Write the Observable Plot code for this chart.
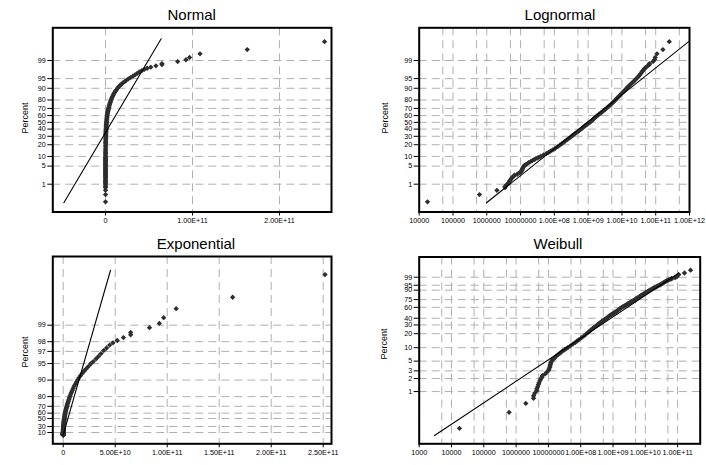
<!DOCTYPE html>
<html><head><meta charset="utf-8">
<script src="https://cdn.jsdelivr.net/npm/d3@7"></script>
<script src="https://cdn.jsdelivr.net/npm/@observablehq/plot@0.6"></script>
<style>
body{margin:0;background:#fff;}
#root{position:relative;width:706px;height:465px;overflow:hidden;font-family:Arial,"Liberation Sans",sans-serif;color:#000;}
.panel{position:absolute;}
.title{position:absolute;font-size:15px;transform:translateX(-50%);white-space:nowrap;line-height:15px;}
.ylab{position:absolute;font-size:9px;transform:translate(-50%,-50%) rotate(-90deg);white-space:nowrap;line-height:9px;}
</style></head><body><div id="root"></div>
<script>
// ---- sample: log10 of value, and plotting-position percent ----
const valueLog10 = [
 4.246, 5.784, 6.30, 6.54, 6.54, 6.58, 6.64, 6.64, 6.67, 6.69, 6.71, 6.74, 6.76, 6.80, 6.82, 6.90, 6.95, 7.00,
 7.02, 7.04, 7.05, 7.06, 7.08, 7.10, 7.12, 7.16, 7.20, 7.24, 7.30, 7.35, 7.40, 7.44, 7.50, 7.55, 7.60, 7.68,
 7.76, 7.83, 7.89, 7.95, 8.03, 8.10, 8.16, 8.22, 8.27, 8.32, 8.37, 8.42, 8.48, 8.52, 8.57, 8.61, 8.65, 8.70,
 8.74, 8.78, 8.82, 8.86, 8.90, 8.94, 8.98, 9.02, 9.06, 9.10, 9.14, 9.18, 9.22, 9.26, 9.30, 9.34, 9.38, 9.42,
 9.46, 9.50, 9.54, 9.58, 9.62, 9.66, 9.70, 9.74, 9.78, 9.82, 9.86, 9.90, 9.94, 9.98, 10.02, 10.06, 10.10, 10.14,
 10.18, 10.22, 10.26, 10.30, 10.34, 10.38, 10.42, 10.46, 10.50, 10.53, 10.56, 10.59, 10.62, 10.65, 10.68,
 10.716, 10.763, 10.812, 10.812, 10.919, 10.966, 10.985, 11.036, 11.212, 11.401
];
const percent = [
 0.14, 0.33, 0.53, 0.70, 0.80, 0.92, 1.05, 1.16, 1.30, 1.45, 1.60, 1.80, 1.96, 2.15, 2.35, 2.55, 2.80, 3.05,
 3.30, 3.6, 3.9, 4.2, 4.6, 5.0, 5.3, 5.6, 6.0, 6.5, 7.0, 7.5, 8.0, 8.5, 9.0, 9.5, 10.0, 11.0,
 12.0, 13.0, 14.0, 15.0, 16.5, 18.0, 19.5, 21.0, 22.5, 24.0, 25.5, 27.0, 28.8, 30.5, 32.0, 33.5, 35.0, 36.5,
 38.0, 39.5, 41.0, 42.9, 44.5, 46.0, 47.5, 49.0, 50.5, 52.0, 54.0, 56.0, 57.7, 59.5, 61.0, 62.5, 64.0, 65.5,
 67.0, 68.5, 70.0, 71.6, 73.0, 74.5, 76.0, 77.5, 79.0, 80.5, 82.0, 83.3, 84.5, 85.8, 87.0, 88.0, 89.0, 90.0,
 90.9, 91.7, 92.4, 93.1, 93.7, 94.3, 94.9, 95.4, 95.9, 96.3, 96.7, 97.1, 97.4, 97.7, 97.9,
 98.10, 98.32, 98.50, 98.64, 98.89, 99.07, 99.27, 99.50, 99.69, 99.88
];

// ---- fitted lines (end points) ----
const normalFitValue = [-4.79e10, 6.4e10];
const normalFitPercent = [0.124, 99.916];
const lognormalFitValue = [9.8e5, 1.07e12];
const lognormalFitPercent = [0.124, 99.9];
const exponentialFitValue = [8e6, 4.55e10];
const exponentialFitPercent = [0.12, 99.9];
const weibullFitValue = [2980, 1.07e11];
const weibullFitPercent = [0.095, 99.67];

// ---- tick labels ----
const titles = ["Normal", "Lognormal", "Exponential", "Weibull"];
const yLabel = "Percent";
const normalYTicks = [1, 5, 10, 20, 30, 40, 50, 60, 70, 80, 90, 95, 99];
const exponentialYTicks = [10, 30, 50, 60, 70, 80, 90, 95, 97, 98, 99];
const weibullYTicks = [1, 2, 3, 5, 10, 20, 30, 40, 60, 75, 90, 95, 99];
const normalXTicks = [0, 1e11, 2e11];
const normalXLabels = ["0", "1.00E+11", "2.00E+11"];
const lognormalXTicks = [1e4, 1e5, 1e6, 1e7, 1e8, 1e9, 1e10, 1e11, 1e12];
const lognormalXLabels = ["10000", "100000", "1000000", "10000000", "1.00E+08", "1.00E+09", "1.00E+10", "1.00E+11", "1.00E+12"];
const exponentialXTicks = [0, 5e10, 1e11, 1.5e11, 2e11, 2.5e11];
const exponentialXLabels = ["0", "5.00E+10", "1.00E+11", "1.50E+11", "2.00E+11", "2.50E+11"];
const weibullXTicks = [1e3, 1e4, 1e5, 1e6, 1e7, 1e8, 1e9, 1e10, 1e11];
const weibullXLabels = ["1000", "10000", "100000", "1000000", "10000000", "1.00E+08", "1.00E+09", "1.00E+10", "1.00E+11"];
const lognormalMinorGrid = [5e4, 5e5, 5e6, 5e7, 5e8, 5e9, 5e10, 5e11];
const weibullMinorGrid = [5e3, 5e4, 5e5, 5e6, 5e7, 5e8, 5e9, 5e10, 5e11];

// ---- probability-paper transforms ----
function qnorm(p) {
  const a=[-3.969683028665376e+01,2.209460984245205e+02,-2.759285104469687e+02,1.383577518672690e+02,-3.066479806614716e+01,2.506628277459239e+00];
  const b=[-5.447609879822406e+01,1.615858368580409e+02,-1.556989798598866e+02,6.680131188771972e+01,-1.328068155288572e+01];
  const c=[-7.784894002430293e-03,-3.223964580411365e-01,-2.400758277161838e+00,-2.549732980237675e+00,4.374664141464968e+00,2.938163982698783e+00];
  const d=[7.784695709041462e-03,3.224671290700398e-01,2.445134137142996e+00,3.754408661907416e+00];
  const pl = 0.02425;
  if (p < pl) { const q = Math.sqrt(-2*Math.log(p)); return (((((c[0]*q+c[1])*q+c[2])*q+c[3])*q+c[4])*q+c[5])/((((d[0]*q+d[1])*q+d[2])*q+d[3])*q+1); }
  if (p <= 1 - pl) { const q = p - 0.5, r = q*q; return (((((a[0]*r+a[1])*r+a[2])*r+a[3])*r+a[4])*r+a[5])*q/(((((b[0]*r+b[1])*r+b[2])*r+b[3])*r+b[4])*r+1); }
  const q = Math.sqrt(-2*Math.log(1-p)); return -(((((c[0]*q+c[1])*q+c[2])*q+c[3])*q+c[4])*q+c[5])/((((d[0]*q+d[1])*q+d[2])*q+d[3])*q+1);
}
const tNormal = p => qnorm(p);
const tExp = p => -Math.log(1 - p);
const tWeibull = p => Math.log(-Math.log(1 - p));

const values = valueLog10.map(l => Math.pow(10, l));
const root = document.getElementById("root");
const FONT = "Arial, 'Liberation Sans', sans-serif";

function panel(o) {
  const tx = o.yf;
  const yTickVals = o.yTicks.map(p => tx(p / 100));
  const yLab = new Map(yTickVals.map((v, i) => [v, String(o.yTicks[i])]));
  const xLab = new Map(o.xTicks.map((v, i) => [v, o.xLabels[i]]));
  const pts = values.map((v, i) => ({v, y: tx(percent[i] / 100)}));
  const fit = o.fitValue.map((v, i) => ({v, y: tx(o.fitPercent[i] / 100)}));
  const grid = {stroke: "#b0b0b0", strokeWidth: 1, strokeDasharray: "8,5"};
  const svg = Plot.plot({
    width: o.w, height: o.h,
    marginLeft: o.ml, marginRight: o.mr, marginTop: o.mt, marginBottom: o.mb,
    style: {fontFamily: FONT, fontSize: "7.2px", color: "#000", background: "transparent", overflow: "visible"},
    x: {type: o.xType, domain: o.xDomain, ticks: o.xTicks, tickFormat: d => xLab.get(d) ?? "", tickSize: 4, tickPadding: 2, label: null},
    y: {domain: o.yDomain, ticks: yTickVals, tickFormat: d => yLab.get(d) ?? "", tickSize: 5, tickPadding: 2, label: null},
    marks: [
      Plot.ruleY(yTickVals, grid),
      Plot.ruleX(o.xGrid, grid),
      Plot.dot(pts, {x: "v", y: "y", symbol: "diamond2", r: 2.4, fill: "#2e2e2e"}),
      Plot.line(fit, {x: "v", y: "y", stroke: "#000", strokeWidth: 1.1, clip: true}),
      Plot.frame({stroke: "#000", strokeWidth: 2})
    ]
  });
  svg.classList.add("panel");
  svg.style.left = o.left + "px";
  svg.style.top = o.top + "px";
  root.appendChild(svg);
  const t = document.createElement("div");
  t.className = "title"; t.textContent = o.title;
  t.style.left = o.titleX + "px"; t.style.top = o.titleY + "px";
  root.appendChild(t);
  const yl = document.createElement("div");
  yl.className = "ylab"; yl.textContent = yLabel;
  yl.style.left = o.ylabX + "px"; yl.style.top = o.ylabY + "px";
  root.appendChild(yl);
}

panel({title: titles[0], left: 0, top: 0, w: 340, h: 232, ml: 52.3, mr: 9, mt: 27.3, mb: 20.5,
  xType: "linear", xDomain: [-6.06e10, 2.598e11], xTicks: normalXTicks, xLabels: normalXLabels, xGrid: normalXTicks,
  yf: tNormal, yDomain: [-3.372, 3.556], yTicks: normalYTicks,
  fitValue: normalFitValue, fitPercent: normalFitPercent,
  titleX: 191.7, titleY: 7, ylabX: 25, ylabY: 118});

panel({title: titles[1], left: 353, top: 0, w: 353, h: 232, ml: 65.7, mr: 17, mt: 27.3, mb: 20.5,
  xType: "log", xDomain: [1e4, 1e12], xTicks: lognormalXTicks, xLabels: lognormalXLabels, xGrid: lognormalXTicks.concat(lognormalMinorGrid),
  yf: tNormal, yDomain: [-3.372, 3.556], yTicks: normalYTicks,
  fitValue: lognormalFitValue, fitPercent: lognormalFitPercent,
  titleX: 560, titleY: 7, ylabX: 384.5, ylabY: 118});

panel({title: titles[2], left: 0, top: 232, w: 340, h: 233, ml: 52.3, mr: 9, mt: 24, mb: 21.7,
  xType: "linear", xDomain: [-1.0e10, 2.58e11], xTicks: exponentialXTicks, xLabels: exponentialXLabels, xGrid: exponentialXTicks,
  yf: tExp, yDomain: [-0.369, 7.485], yTicks: exponentialYTicks,
  fitValue: exponentialFitValue, fitPercent: exponentialFitPercent,
  titleX: 196, titleY: 236, ylabX: 25.3, ylabY: 351.7});

panel({title: titles[3], left: 353, top: 232, w: 353, h: 233, ml: 65.7, mr: 6.3, mt: 24.5, mb: 21.7,
  xType: "log", xDomain: [1e3, 5e11], xTicks: weibullXTicks, xLabels: weibullXLabels, xGrid: weibullXTicks.concat(weibullMinorGrid),
  yf: tWeibull, yDomain: [-7.40, 2.61], yTicks: weibullYTicks,
  fitValue: weibullFitValue, fitPercent: weibullFitPercent,
  titleX: 558, titleY: 236, ylabX: 384, ylabY: 344});
</script></body></html>
